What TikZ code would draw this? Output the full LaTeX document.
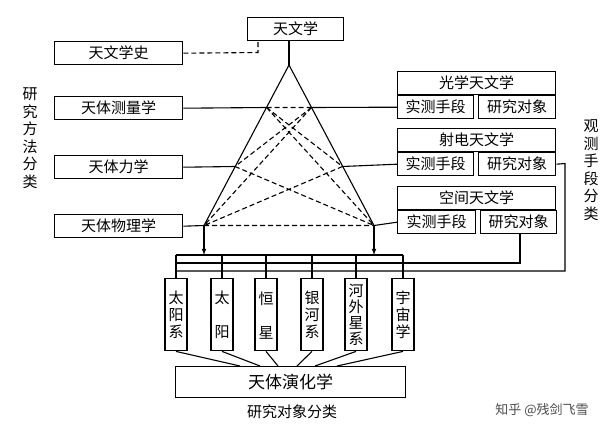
\documentclass[tikz,border=0pt]{standalone}
\usepackage{fontspec}
\newfontfamily\cjk{Noto Sans CJK SC}
\begin{document}
\begin{tikzpicture}[x=1pt,y=-1pt,
  bx/.style={draw,line width=1.4pt,inner sep=0pt,font=\cjk\fontsize{15}{16}\selectfont,anchor=north west},
  vb/.style={draw,line width=1.4pt,inner sep=0pt,font=\cjk\fontsize{15}{17}\selectfont,align=center,anchor=north,minimum width=22pt,minimum height=72pt,text depth=0pt},
  ln/.style={line width=1.1pt},
  dl/.style={line width=1.1pt,dash pattern=on 5pt off 3pt},
  lab/.style={font=\cjk\fontsize{15}{17.5}\selectfont,align=center}]
\useasboundingbox (0,0) rectangle (610,436);
\fill[white] (0,0) rectangle (610,436);
\newcommand\bxn[6]{\node[bx,minimum width=#3pt,minimum height=#4pt] (#5) at (#1,#2) {#6};}
\bxn{247}{17}{96}{23}{top}{天文学}
\bxn{54}{41}{128}{23}{hist}{天文学史}
\bxn{54}{96}{128}{23}{m1}{天体测量学}
\bxn{54}{155}{128}{23}{m2}{天体力学}
\bxn{54}{214}{128}{23}{m3}{天体物理学}
\bxn{397}{71}{158}{23}{g1}{光学天文学}
\bxn{397}{95}{76}{23}{s1}{实测手段}
\bxn{478}{95}{77}{23}{o1}{研究对象}
\bxn{397}{128}{158}{23}{g2}{射电天文学}
\bxn{397}{152}{76}{23}{s2}{实测手段}
\bxn{478}{152}{77}{23}{o2}{研究对象}
\bxn{397}{186}{158}{23}{g3}{空间天文学}
\bxn{397}{210}{78}{23}{s3}{实测手段}
\bxn{480}{210}{76}{23}{o3}{研究对象}
\node[vb] (b1) at (176,278) {太\\阳\\系};
\node[vb] (b2) at (222,278) {太\\\\阳};
\node[vb] (b3) at (266,278) {恒\\\\星};
\node[vb] (b4) at (312,278) {银\\河\\系};
\node[vb,font=\cjk\fontsize{15}{16}\selectfont] (b5) at (356,278) {河\\外\\星\\系};
\node[vb] (b6) at (403,278) {宇\\宙\\学};
\node[bx,minimum width=230pt,minimum height=31pt,font=\cjk\fontsize{17}{18}\selectfont] (evo) at (175,366) {天体演化学};
\node[lab] at (292,412) {研究对象分类};
\node[lab] at (30,138) {研\\究\\方\\法\\分\\类};
\node[lab] at (591,170) {观\\测\\手\\段\\分\\类};
\node[font=\cjk\fontsize{13}{14}\selectfont,text=black!70] at (542,410) {知乎 @残剑飞雪};
% triangle
\coordinate (ap) at (289,65);
\coordinate (A1) at (266.5,107.5); \coordinate (B1) at (311.5,107.5);
\coordinate (A2) at (235,166.5); \coordinate (B2) at (342.5,166.5);
\coordinate (A3) at (204,225.5); \coordinate (B3) at (374,225.5);
\draw[ln] (top.south -| ap) -- (ap);
\draw[ln] (A3) -- (ap) -- (B3);
\draw[dl] (hist.east) -- (258,52.5) -- (258,40);
\draw[ln] (m1.east) -- (A1); \draw[ln] (B1) -- (s1.west);
\draw[ln] (m2.east) -- (A2); \draw[ln] (B2) -- (s2.west);
\draw[ln] (m3.east) -- (A3); \draw[ln] (B3) -- (s3.west);
\draw[dl] (A1)--(B1) (A3)--(B3) (A1)--(B2) (B1)--(A2) (A2)--(B3) (B2)--(A3) (A1)--(B3) (B1)--(A3);
\draw[ln,-latex] (A3) -- (204,255);
\draw[ln,-latex] (B3) -- (374,255);
% buses
\draw[ln] (176,255) -- (403,255);
\draw[ln] (176,263) -- (520,263) -- (o3.south -| 520,0);
\draw[ln] (176,271) -- (565,271) -- (565,163.5) -- (o2.east);
\foreach \b in {b1,b2,b3,b4,b5,b6} \draw[ln] (\b.north) -- (\b.north |- 0,255);
\draw[ln] (b1.south) -- (240,366);
\draw[ln] (b2.south) -- (260,366);
\draw[ln] (b3.south) -- (278,366);
\draw[ln] (b4.south) -- (297,366);
\draw[ln] (b5.south) -- (315,366);
\draw[ln] (b6.south) -- (337,366);
\end{tikzpicture}
\end{document}
